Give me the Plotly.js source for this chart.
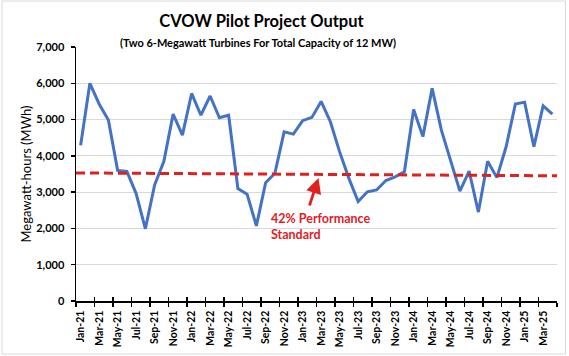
<!DOCTYPE html>
<html>
<head>
<meta charset="utf-8">
<script src="https://cdn.plot.ly/plotly-3.0.1.min.js"></script>
<style>html,body{margin:0;padding:0;background:#fff;}#chart{width:569px;height:356px;}</style>
</head>
<body>
<div id="chart"></div>
<script>
// ---- data ----
const months = ["Jan-21","Feb-21","Mar-21","Apr-21","May-21","Jun-21","Jul-21","Aug-21","Sep-21","Oct-21","Nov-21","Dec-21",
"Jan-22","Feb-22","Mar-22","Apr-22","May-22","Jun-22","Jul-22","Aug-22","Sep-22","Oct-22","Nov-22","Dec-22",
"Jan-23","Feb-23","Mar-23","Apr-23","May-23","Jun-23","Jul-23","Aug-23","Sep-23","Oct-23","Nov-23","Dec-23",
"Jan-24","Feb-24","Mar-24","Apr-24","May-24","Jun-24","Jul-24","Aug-24","Sep-24","Oct-24","Nov-24","Dec-24",
"Jan-25","Feb-25","Mar-25","Apr-25"];
const outputMWh = [4290,6000,5430,4990,3600,3570,2960,1990,3200,3850,5150,4570,
5720,5120,5650,5050,5120,3100,2940,2070,3260,3520,4660,4600,
4970,5060,5500,4940,4110,3380,2740,3010,3060,3320,3420,3560,
5280,4530,5860,4710,3870,3030,3580,2450,3850,3400,4250,5430,
5480,4250,5380,5150];
// 42% performance standard line (start / end of chart)
const standardMWh = [3530, 3450];
const yTicks = [0,1000,2000,3000,4000,5000,6000,7000];
const yTickText = ["0","1,000","2,000","3,000","4,000","5,000","6,000","7,000"];

// ---- derived ----
const xIdx = months.map((m,i)=>i);
const labelIdx = xIdx.filter(i=>i%2===0);
const labelText = labelIdx.map(i=>months[i]);
const boundaryIdx = [];
for (let i=0;i<=months.length;i+=2) boundaryIdx.push(i-0.5);
const xMin = -0.5, xMax = months.length-0.5;

const W=569,H=356,ML=76,MR=12,MT=47,MB=55;
const pw=W-ML-MR, ph=H-MT-MB;
const px=(p)=> (p-ML)/pw;
const py=(p)=> (H-MB-p)/ph;

const FONT = "Lato, 'Open Sans', sans-serif";
const RED = "#E0201F";

const traces = [
  {x:xIdx, y:outputMWh, type:'scatter', mode:'lines', line:{color:'#4472C4', width:3}, hoverinfo:'x+y', showlegend:false},
  {x:[xMin,xMax], y:standardMWh, type:'scatter', mode:'lines', line:{color:RED, width:3, dash:'9px,5px'}, showlegend:false},
  {x:[xMin], y:[0], xaxis:'x2', type:'scatter', mode:'markers', marker:{opacity:0}, showlegend:false, hoverinfo:'skip'}
];

const layout = {
  width:W, height:H,
  margin:{l:ML, r:MR, t:MT, b:MB, pad:0},
  paper_bgcolor:'#fff', plot_bgcolor:'#fff',
  font:{family:FONT, color:'#000'},
  title:{text:'CVOW Pilot Project Output', font:{family:FONT, size:16.5, color:'#000', weight:'bold'},
         xref:'container', x:261.5/W, xanchor:'center', yref:'container', y:1-21.5/H, yanchor:'middle'},
  xaxis:{range:[xMin,xMax], tickmode:'array', tickvals:labelIdx, ticktext:labelText, tickangle:-90,
         ticks:'', showgrid:false, zeroline:false, showline:true, linecolor:'#000', linewidth:1.5,
         tickfont:{family:FONT, size:10.5, color:'#000', weight:'bold'}, ticklabelstandoff:4,
         minor:{tickmode:'array', tickvals:boundaryIdx, ticks:'outside', ticklen:4, tickwidth:1.3, tickcolor:'#000', showgrid:false}},
  xaxis2:{overlaying:'x', matches:'x', range:[xMin,xMax], tickmode:'array', tickvals:boundaryIdx, ticks:'inside',
          ticklen:4, tickwidth:1.3, tickcolor:'#000', showticklabels:false, showgrid:false, zeroline:false, showline:false, side:'bottom', anchor:'y'},
  yaxis:{range:[0,7000], tickmode:'array', tickvals:yTicks, ticktext:yTickText,
         ticks:'outside', ticklen:4, tickwidth:1.3, tickcolor:'#000',
         showgrid:true, gridcolor:'#D9D9D9', gridwidth:1, zeroline:false, showline:true, linecolor:'#000', linewidth:1.5,
         tickfont:{family:FONT, size:11, color:'#000', weight:'bold'}, ticklabelstandoff:4,
         title:{text:'Megawatt-hours (MWh)', font:{family:FONT, size:13, color:'#000'}, standoff:1}},
  annotations:[
    {text:'(Two 6-Megawatt Turbines For Total Capacity of 12 MW)', xref:'paper', yref:'paper',
     x:px(257.5), y:py(42.5), xanchor:'center', yanchor:'middle', showarrow:false,
     font:{family:FONT, size:11, color:'#000', weight:'bold'}},
    {text:'42% Performance<br>Standard', xref:'paper', yref:'paper', x:px(269), y:py(209), xanchor:'left', yanchor:'top',
     align:'left', showarrow:false, font:{family:FONT, size:12.5, color:RED, weight:'bold'}},
    {text:'', xref:'paper', yref:'paper', x:px(318.5), y:py(178), ax:px(309), ay:py(207), axref:'paper', ayref:'paper',
     showarrow:true, arrowhead:2, arrowsize:1.1, arrowwidth:2.8, arrowcolor:RED, standoff:0, startstandoff:0}
  ],
  shapes:[
    {type:'rect', xref:'paper', yref:'paper', x0:px(2), x1:px(565.5), y0:py(354), y1:py(1), line:{color:'#D9D9D9', width:1}, fillcolor:'rgba(0,0,0,0)', layer:'below'}
  ]
};

Plotly.newPlot('chart', traces, layout, {staticPlot:true, displayModeBar:false});
</script>
</body>
</html>
